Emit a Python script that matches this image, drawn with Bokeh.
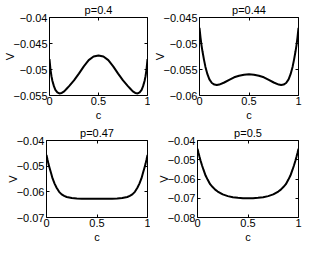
from bokeh.plotting import figure
from bokeh.layouts import column, row
from bokeh.models import Range1d, FixedTicker, LinearAxis
from bokeh.embed import file_html
from bokeh.resources import INLINE

FONT = "Liberation Sans"

# ---- data ----
C = [0, 0.01, 0.02, 0.03, 0.045, 0.06, 0.08, 0.1, 0.125, 0.15, 0.175, 0.2, 0.25,
     0.3, 0.35, 0.4, 0.45, 0.5, 0.55, 0.6, 0.65, 0.7, 0.75, 0.8, 0.825, 0.85,
     0.875, 0.9, 0.92, 0.94, 0.955, 0.97, 0.98, 0.99, 1]

V_p040 = [-0.0480, -0.0500, -0.0513, -0.0522, -0.0532, -0.0539, -0.0544, -0.0546,
          -0.0545, -0.0542, -0.0537, -0.0532, -0.0521, -0.0508, -0.0494, -0.0482,
          -0.0475, -0.0473, -0.0475, -0.0482, -0.0494, -0.0508, -0.0521, -0.0532,
          -0.0537, -0.0542, -0.0545, -0.0546, -0.0544, -0.0539, -0.0532, -0.0522,
          -0.0513, -0.0500, -0.0480]

V_p044 = [-0.0470, -0.0488, -0.0503, -0.0515, -0.0531, -0.0545, -0.0559, -0.0569,
          -0.0576, -0.0579, -0.0580, -0.0579, -0.0575, -0.0570, -0.0565, -0.0562,
          -0.0560, -0.0559, -0.0560, -0.0562, -0.0565, -0.0570, -0.0575, -0.0579,
          -0.0580, -0.0579, -0.0576, -0.0569, -0.0559, -0.0545, -0.0531, -0.0515,
          -0.0503, -0.0488, -0.0470]

V_p047 = [-0.0456, -0.0475, -0.0492, -0.0506, -0.0527, -0.0548, -0.0568, -0.0584,
          -0.0600, -0.0610, -0.0616, -0.0620, -0.0624, -0.0626, -0.0627, -0.0627,
          -0.0627, -0.0627, -0.0627, -0.0627, -0.0627, -0.0626, -0.0624, -0.0620,
          -0.0616, -0.0610, -0.0600, -0.0584, -0.0568, -0.0548, -0.0527, -0.0506,
          -0.0492, -0.0475, -0.0456]

V_p050 = [-0.0443, -0.0465, -0.0485, -0.0504, -0.0530, -0.0553, -0.0582, -0.0603,
          -0.0627, -0.0642, -0.0655, -0.0665, -0.0680, -0.0689, -0.0695, -0.0698,
          -0.0700, -0.0700, -0.0700, -0.0698, -0.0695, -0.0689, -0.0680, -0.0665,
          -0.0655, -0.0642, -0.0627, -0.0603, -0.0582, -0.0553, -0.0530, -0.0504,
          -0.0485, -0.0465, -0.0443]

TITLES = ["p=0.4", "p=0.44", "p=0.47", "p=0.5"]

X_TICKS = [0, 0.5, 1]
X_LABELS = ["0", "0.5", "1"]

Y_TICKS_1 = [-0.055, -0.05, -0.045, -0.04]
Y_LABELS_1 = ["\u22120.055", "\u22120.05", "\u22120.045", "\u22120.04"]
Y_TICKS_2 = [-0.06, -0.055, -0.05, -0.045]
Y_LABELS_2 = ["\u22120.06", "\u22120.055", "\u22120.05", "\u22120.045"]
Y_TICKS_3 = [-0.07, -0.06, -0.05, -0.04]
Y_LABELS_3 = ["\u22120.07", "\u22120.06", "\u22120.05", "\u22120.04"]
Y_TICKS_4 = [-0.08, -0.07, -0.06, -0.05, -0.04]
Y_LABELS_4 = ["\u22120.08", "\u22120.07", "\u22120.06", "\u22120.05", "\u22120.04"]

X_LABEL = "c"
Y_LABEL = "V"

FS = "11px"


def make_axis(ticks, labels, show, label=None):
    ax = LinearAxis(ticker=FixedTicker(ticks=ticks),
                    major_label_overrides={t: l for t, l in zip(ticks, labels)})
    ax.axis_line_color = None
    ax.major_tick_line_color = "black"
    ax.major_tick_line_width = 1
    ax.major_tick_in = 3
    ax.major_tick_out = 0
    ax.minor_tick_line_color = None
    if show:
        ax.major_label_text_font = FONT
        ax.major_label_text_font_size = FS
        ax.major_label_text_color = "black"
        ax.major_label_standoff = 2
    else:
        ax.major_label_text_font_size = "0px"
        ax.major_label_standoff = 0
    if label is not None:
        ax.axis_label = label
        ax.axis_label_text_font = FONT
        ax.axis_label_text_font_size = FS
        ax.axis_label_text_font_style = "normal"
        ax.axis_label_text_color = "black"
    return ax


def panel(vals, yt, yl, title, width, height, bl, br, bt):
    p = figure(width=width, height=height, output_backend="svg", toolbar_location=None,
               x_range=Range1d(0, 1), y_range=Range1d(yt[0], yt[-1]),
               x_axis_location=None, y_axis_location=None,
               min_border_left=bl, min_border_right=br,
               min_border_top=bt, min_border_bottom=0,
               title=title)
    p.title.text_font = FONT
    p.title.text_font_size = FS
    p.title.text_font_style = "normal"
    p.title.text_color = "black"
    p.title.align = "center"
    p.title.standoff = 3
    p.xgrid.grid_line_color = None
    p.ygrid.grid_line_color = None
    p.outline_line_color = "black"
    p.outline_line_width = 1
    p.outline_line_alpha = 1
    p.background_fill_color = "white"
    p.border_fill_color = "white"

    xb = make_axis(X_TICKS, X_LABELS, True, X_LABEL)
    xb.major_label_standoff = 1
    xb.axis_label_standoff = 1
    p.add_layout(xb, "below")
    yl_ax = make_axis(yt, yl, True, Y_LABEL)
    yl_ax.axis_label_standoff = -5
    p.add_layout(yl_ax, "left")
    p.add_layout(make_axis(X_TICKS, ["", "", ""], False), "above")
    p.add_layout(make_axis(yt, ["" for _ in yt], False), "right")

    p.line(C, vals, line_color="black", line_width=2)
    return p


p1 = panel(V_p040, Y_TICKS_1, Y_LABELS_1, TITLES[0], 150, 123, 46, 3, 17)
p2 = panel(V_p044, Y_TICKS_2, Y_LABELS_2, TITLES[1], 152, 123, 47, 4, 17)
p3 = panel(V_p047, Y_TICKS_3, Y_LABELS_3, TITLES[2], 150, 122, 46, 3, 0)
p4 = panel(V_p050, Y_TICKS_4, Y_LABELS_4, TITLES[3], 152, 122, 47, 4, 0)

layout = column(row(p1, p2), row(p3, p4))

open("out.html", "w").write(file_html(layout, INLINE))
